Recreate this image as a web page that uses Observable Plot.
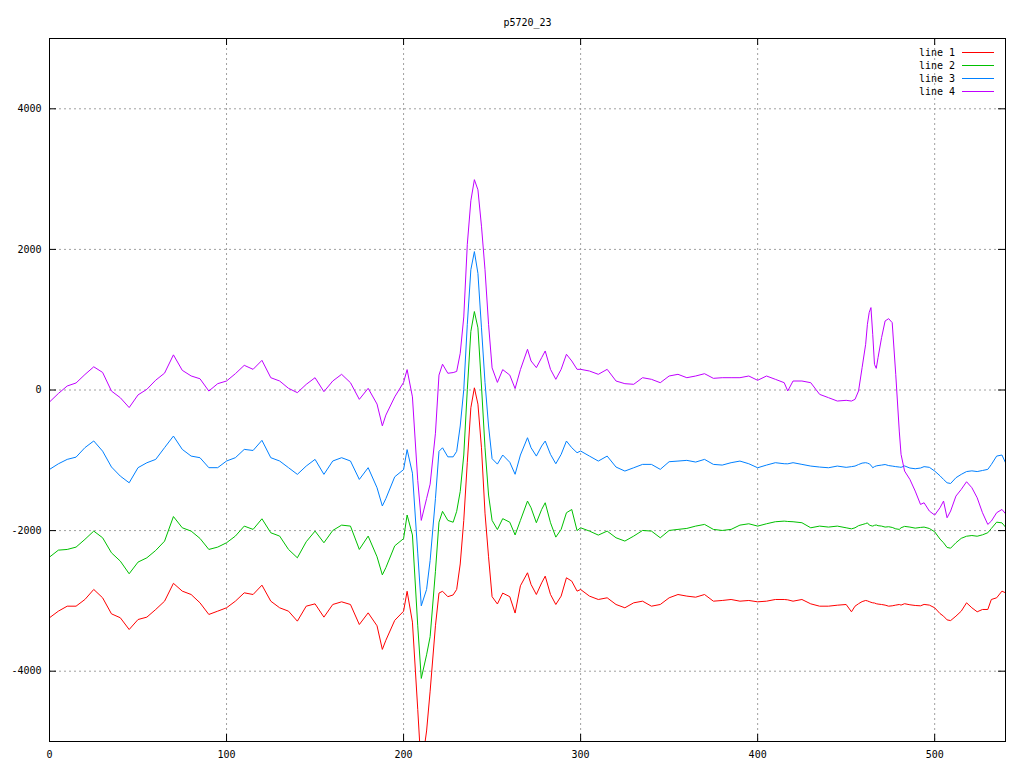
<!DOCTYPE html>
<html>
<head>
<meta charset="utf-8">
<script src="https://cdn.jsdelivr.net/npm/d3@7"></script>
<script src="https://cdn.jsdelivr.net/npm/@observablehq/plot@0.6"></script>
<style>
  body { margin: 0; background: #ffffff; }
  #wrap { position: relative; width: 1024px; height: 768px; }
  #legend { position: absolute; left: 0; top: 0; width: 1024px; height: 0; font-family: "DejaVu Sans Mono", monospace; font-size: 10px; color: #000; }
  .row { position: absolute; left: 0; width: 1024px; height: 13px; line-height: 13px; }
  .lab { position: absolute; right: 69px; top: 0; white-space: nowrap; }
  .sw { position: absolute; left: 962px; width: 32px; height: 0; top: 6px; border-top-width: 1px; border-top-style: solid; }
</style>
</head>
<body>
<div id="wrap"></div>
<script>
const chartTitle = "p5720_23";
const seriesNames = ["line 1", "line 2", "line 3", "line 4"];
const seriesColors = ["#ff0000", "#00c000", "#0080ff", "#c000ff"];
const xTicks = [0, 100, 200, 300, 400, 500];
const yTicks = [-4000, -2000, 0, 2000, 4000];

const xs = [0,5,10,15,20,25,30,35,40,45,50,55,60,65,70,75,80,85,90,
  95,100,105,110,115,120,125,130,135,140,145,150,155,160,165,170,175,180,
  185,188,190,195,200,202,205,208,210,213,215,218,220,222,225,228,230,232,234,236,238,240,242,244,246,248,250,253,256,260,263,266,
  270,272,275,278,280,283,286,289,292,295,298,300,
  305,310,315,320,325,330,335,340,345,350,355,360,365,370,375,380,385,390,395,400,405,410,415,417,420,425,430,435,440,445,450,
  453,455,457,459,461,462,463,464,465,466,467,468,470,472,474,476,478,480,481,483,486,489,492,494,497,500,503,505,507,509,512,515,518,521,524,527,530,532,535,538,540];

const line1 = [-3240,-3146,-3075,-3075,-2980,-2837,-2956,-3184,-3240,-3407,-3265,-3231,-3122,-3004,-2750,-2861,-2909,-3027,-3193,
  -3146,-3098,-3004,-2885,-2909,-2776,-3004,-3098,-3146,-3288,-3075,-3042,-3231,-3051,-3013,-3051,-3336,-3170,
  -3354,-3690,-3560,-3277,-3147,-2863,-3302,-4543,-5400,-4850,-4284,-3354,-2889,-2863,-2940,-2915,-2837,-2475,-1855,-1028,-253,31,-201,-822,-1752,-2372,-2940,-3044,-2889,-2940,-3173,-2785,
  -2600,-2766,-2909,-2743,-2648,-2909,-3051,-2932,-2671,-2719,-2861,-2838,
  -2932,-2980,-2956,-3051,-3098,-3027,-3004,-3075,-3051,-2956,-2909,-2932,-2947,-2909,-3004,-2994,-2980,-3004,-2994,-3013,-3004,-2980,-2980,-2985,-3004,-2980,-3042,-3075,-3075,-3061,-3051,
  -3155,-3075,-3040,-3010,-2994,-3000,-3010,-3020,-3027,-3030,-3040,-3045,-3051,-3060,-3075,-3070,-3060,-3051,-3060,-3040,-3055,-3065,-3070,-3050,-3060,-3098,-3180,-3217,-3270,-3280,-3217,-3146,-3027,-3098,-3155,-3122,-3122,-2980,-2956,-2861,-2885];

const line2 = [-2377,-2278,-2268,-2235,-2125,-2007,-2102,-2316,-2434,-2614,-2448,-2387,-2282,-2150,-1800,-1960,-2007,-2111,-2268,
  -2235,-2173,-2078,-1936,-1983,-1832,-2031,-2078,-2268,-2387,-2159,-2007,-2173,-1998,-1922,-1936,-2268,-2078,
  -2372,-2630,-2527,-2217,-2114,-1778,-2062,-3354,-4103,-3767,-3509,-2579,-1881,-1726,-1855,-1881,-1726,-1442,-925,5,832,1116,884,57,-822,-1494,-1855,-1985,-1830,-1881,-2062,-1855,
  -1580,-1675,-1888,-1699,-1604,-1888,-2093,-1983,-1746,-1700,-2000,-1960,
  -2007,-2064,-2007,-2102,-2149,-2078,-1998,-2007,-2102,-1998,-1983,-1969,-1936,-1912,-1983,-1998,-1983,-1922,-1903,-1936,-1903,-1874,-1865,-1870,-1874,-1888,-1960,-1936,-1950,-1936,-1960,
  -1975,-1960,-1930,-1915,-1900,-1890,-1920,-1930,-1936,-1925,-1920,-1930,-1936,-1950,-1945,-1955,-1975,-1983,-1960,-1940,-1950,-1965,-1955,-1950,-1970,-2017,-2120,-2173,-2240,-2250,-2173,-2110,-2080,-2070,-2080,-2060,-2031,-1970,-1880,-1890,-1950];

const line3 = [-1130,-1050,-987,-955,-820,-725,-870,-1095,-1225,-1320,-1105,-1035,-987,-820,-655,-845,-940,-963,-1105,
  -1105,-1010,-963,-845,-860,-716,-963,-1010,-1105,-1200,-1082,-987,-1200,-1010,-963,-1010,-1272,-1105,
  -1390,-1650,-1545,-1235,-1132,-848,-1183,-2320,-3070,-2837,-2424,-1545,-873,-822,-951,-951,-873,-512,5,935,1711,1969,1659,884,108,-512,-977,-1054,-925,-1028,-1199,-925,
  -679,-821,-940,-797,-726,-916,-1049,-916,-726,-821,-892,-868,
  -940,-1011,-940,-1096,-1153,-1106,-1058,-1058,-1129,-1020,-1011,-1001,-1025,-987,-1058,-1068,-1034,-1011,-1049,-1106,-1068,-1034,-1049,-1050,-1034,-1058,-1082,-1096,-1106,-1082,-1100,
  -1090,-1082,-1060,-1040,-1034,-1040,-1050,-1070,-1106,-1090,-1080,-1075,-1068,-1060,-1075,-1082,-1090,-1096,-1100,-1080,-1110,-1120,-1110,-1090,-1100,-1153,-1220,-1272,-1320,-1330,-1248,-1200,-1160,-1150,-1160,-1145,-1129,-1060,-940,-925,-1034];

const line4 = [-171,-50,57,100,220,330,250,-15,-110,-250,-70,10,140,240,500,280,200,160,-15,
  90,128,232,351,294,422,175,128,24,-38,80,175,-24,128,223,104,-133,24,
  -200,-510,-357,-98,108,290,-98,-1287,-1855,-1545,-1340,-615,212,367,238,248,264,522,1039,2072,2692,2992,2848,2330,1711,935,315,108,290,212,20,290,
  579,413,318,460,555,294,152,294,508,413,294,294,
  270,223,294,128,90,81,175,152,104,199,223,175,199,232,166,175,175,175,199,138,199,152,104,-14,128,128,104,-62,-109,-157,-147,
  -157,-133,-14,318,650,935,1101,1172,792,365,308,460,745,982,1015,958,223,-584,-916,-1153,-1272,-1438,-1628,-1604,-1722,-1779,-1675,-1580,-1817,-1722,-1509,-1414,-1305,-1390,-1533,-1746,-1912,-1865,-1746,-1699,-1760];

const allSeries = [line1, line2, line3, line4];
const gridX = xTicks.filter(d => d > 0);

const W = 1024, H = 768, mL = 49, mR = 19, mT = 38, mB = 27;
const fw = W - mL - mR, fh = H - mT - mB, tk = 7;
const gridStyle = {stroke: "#a0a0a0", strokeDasharray: "2,3", strokeWidth: 1};

const lineMarks = allSeries.map((vals, i) =>
  Plot.line(xs.map((x, j) => ({x, y: vals[j]})), {x: "x", y: "y", stroke: seriesColors[i], strokeWidth: 1, clip: true})
);

const chart = Plot.plot({
  width: W, height: H,
  marginLeft: mL, marginRight: mR, marginTop: mT, marginBottom: mB,
  style: {fontFamily: "'DejaVu Sans Mono', monospace", fontSize: "10px", color: "#000", background: "#fff"},
  x: {domain: [0, 540]},
  y: {domain: [-5000, 5000]},
  marks: [
    Plot.ruleX(gridX, {x: d => d, ...gridStyle}),
    Plot.ruleY(yTicks, {y: d => d, ...gridStyle}),
    Plot.tickY(yTicks, {y: d => d, stroke: "#000", insetRight: fw - tk}),
    Plot.tickY(yTicks, {y: d => d, stroke: "#000", insetLeft: fw - tk}),
    Plot.tickX(gridX, {x: d => d, stroke: "#000", insetTop: fh - tk}),
    Plot.tickX(gridX, {x: d => d, stroke: "#000", insetBottom: fh - tk}),
    Plot.axisX({ticks: xTicks, tickSize: 0, tickPadding: 9, tickFormat: d => String(d), label: null}),
    Plot.axisY({ticks: yTicks, tickSize: 0, tickPadding: 8, tickFormat: d => String(d), label: null}),
    ...lineMarks,
    Plot.frame({stroke: "#000", strokeWidth: 1}),
    Plot.text([chartTitle], {text: d => d, frameAnchor: "top", dy: -20, fill: "#000"})
  ]
});

const wrap = document.getElementById("wrap");
wrap.appendChild(chart);

const legend = document.createElement("div");
legend.id = "legend";
seriesNames.forEach((name, i) => {
  const row = document.createElement("div");
  row.className = "row";
  row.style.top = (46 + i * 13) + "px";
  const lab = document.createElement("div");
  lab.className = "lab";
  lab.textContent = name;
  const sw = document.createElement("div");
  sw.className = "sw";
  sw.style.borderTopColor = seriesColors[i];
  row.appendChild(lab);
  row.appendChild(sw);
  legend.appendChild(row);
});
wrap.appendChild(legend);
</script>
</body>
</html>
